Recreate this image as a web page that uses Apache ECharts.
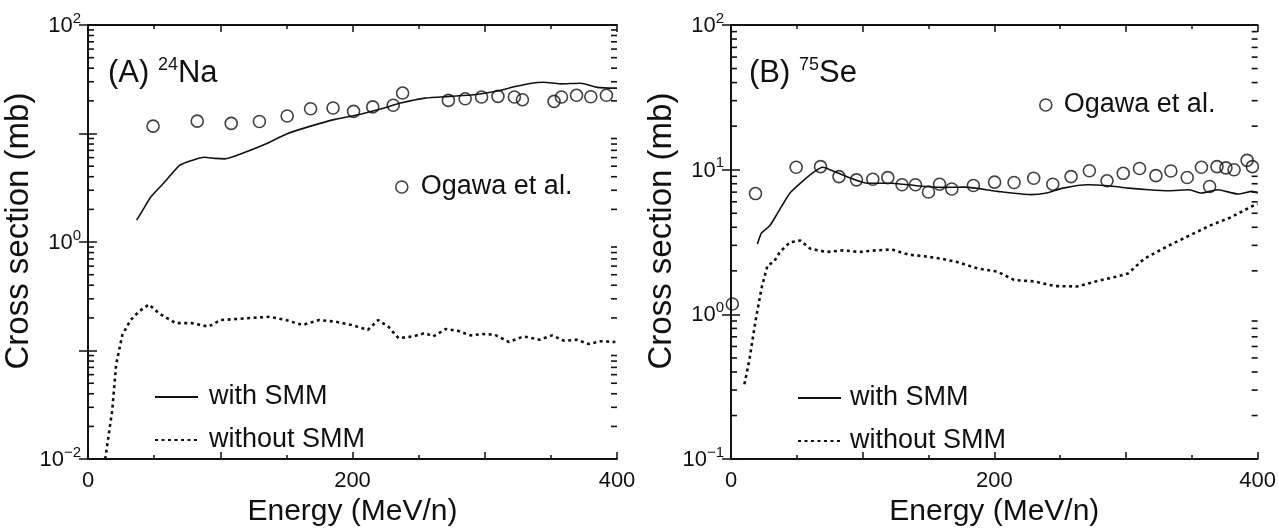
<!DOCTYPE html>
<html>
<head>
<meta charset="utf-8">
<script src="https://cdn.jsdelivr.net/npm/echarts@6/dist/echarts.min.js"></script>
<style>
html, body { margin: 0; padding: 0; background: #fff; }
#chart { width: 1279px; height: 532px; }
</style>
</head>
<body>
<div id="chart"></div>
<script>
// (A) 24Na
var naExpE = [49.2, 82.6, 108.3, 129.6, 150.6, 168.3, 185.3, 200.8, 215.3, 230.8, 237.9, 272.5, 285.2, 297.6, 310, 322.4, 328.5, 352.4, 358, 369.4, 380.2, 392];
var naExpV = [11.7, 13.0, 12.4, 12.9, 14.5, 16.9, 17.2, 16.0, 17.6, 18.2, 23.6, 20.2, 20.9, 21.7, 22.0, 21.7, 20.5, 19.8, 21.7, 22.5, 21.8, 22.5];
var naSmmE = [36.8, 41.5, 47.6, 56.9, 69.3, 78.6, 87.9, 96, 103.3, 118.8, 134.3, 149.7, 168.3, 186.8, 205.4, 224, 236.4, 255, 273.5, 292, 310.6, 323, 335.3, 344.6, 357, 372.4, 384.9, 398.8, 400];
var naSmmV = [1.59, 1.98, 2.62, 3.46, 5.08, 5.65, 6.05, 5.9, 5.84, 6.72, 8.0, 9.86, 11.7, 13.5, 15.0, 17.2, 19.1, 21.2, 22.0, 22.8, 24.8, 27.1, 29.1, 29.7, 28.7, 29.1, 26.6, 26.2, 26.2];
var naNoE = [13, 18.3, 21.3, 26, 32.2, 38.3, 46.1, 53.8, 66.2, 78.6, 91, 100.2, 118.8, 137.4, 149.7, 162.1, 174.5, 186.8, 199.3, 211.6, 219.3, 227.1, 234.8, 245.6, 254.9, 261, 270.4, 279.7, 289, 298.2, 307.5, 318.3, 329.2, 341.5, 350.8, 360.1, 369.4, 378.7, 388, 398.8];
var naNoV = [0.01, 0.028, 0.0746, 0.14, 0.191, 0.228, 0.266, 0.22, 0.179, 0.179, 0.166, 0.191, 0.198, 0.205, 0.191, 0.172, 0.191, 0.185, 0.172, 0.155, 0.191, 0.166, 0.130, 0.135, 0.145, 0.135, 0.158, 0.152, 0.138, 0.142, 0.14, 0.12, 0.135, 0.126, 0.138, 0.123, 0.126, 0.115, 0.122, 0.12];

// (B) 75Se
var seExpE = [1, 18.6, 49.5, 68, 82, 95.3, 107.7, 119.1, 129.9, 140.1, 150, 158.4, 167.7, 184.1, 200.2, 215, 229.9, 244.4, 258.3, 272.2, 285.6, 297.9, 310.3, 322.7, 334.1, 346.5, 357.3, 363.5, 369.1, 375.9, 382.1, 392, 396];
var seExpV = [1.18, 6.84, 10.4, 10.5, 8.96, 8.51, 8.59, 8.82, 7.87, 7.87, 7.01, 7.94, 7.35, 7.78, 8.2, 8.16, 8.73, 7.94, 8.96, 9.84, 8.38, 9.44, 10.2, 9.1, 9.8, 8.83, 10.4, 7.66, 10.5, 10.3, 10.0, 11.6, 10.5];
var seSmmE = [20.1, 23.2, 29.4, 35.6, 44.8, 54.1, 63.4, 69.6, 78.9, 91.2, 103.7, 122.2, 140.8, 159.4, 178, 202.6, 227.4, 239.7, 252.1, 270.7, 286.2, 301.6, 317.1, 332.5, 348, 357.3, 369.7, 385.2, 396, 400];
var seSmmV = [3.07, 3.65, 4.1, 5.05, 6.9, 8.28, 9.69, 10.4, 9.69, 8.73, 8.07, 8.07, 7.75, 7.55, 7.58, 7.08, 6.73, 6.9, 7.46, 7.87, 7.75, 7.46, 7.27, 7.16, 7.27, 6.9, 7.27, 6.79, 7.08, 6.9];
var seNoE = [10.2, 13.9, 18.6, 23.2, 27.8, 32.5, 37.1, 44.8, 52.6, 60.3, 72.7, 85.1, 97.4, 109.9, 122.2, 134.6, 147, 159.4, 171.7, 187.2, 202.6, 215, 230.5, 245.9, 263, 276.9, 292.3, 301.6, 314, 332.5, 348, 363.5, 379, 396, 400];
var seNoV = [0.329, 0.481, 0.9, 1.52, 2.19, 2.3, 2.7, 3.15, 3.24, 2.84, 2.7, 2.77, 2.7, 2.77, 2.81, 2.59, 2.52, 2.43, 2.3, 2.08, 1.97, 1.73, 1.69, 1.57, 1.56, 1.69, 1.82, 1.92, 2.43, 2.99, 3.5, 4.1, 4.66, 5.6, 5.8];

// axis ticks
var xLabels = [0, 200, 400];
var naDecades = [0.01, 0.1, 1, 10];
var seDecades = [0.1, 1, 10];
var minorSteps = [2, 3, 4, 5, 6, 7, 8, 9];

var FONT = '"Liberation Sans", Arial, sans-serif';
var INK = '#111';

function pairs(xs, ys) {
    return xs.map(function (x, i) { return [x, ys[i]]; });
}

// log minor ticks (2..9 per decade)
function minorValues(decades) {
    var out = [];
    decades.forEach(function (d) {
        minorSteps.forEach(function (m) { out.push([200, +(d * m).toPrecision(3)]); });
    });
    return out;
}

function powLabel(onlyEven) {
    return function (v) {
        var e = Math.round(Math.log(v) / Math.LN10);
        if (onlyEven && e % 2 !== 0) return '';
        return '{b|10}{e|' + (e < 0 ? '\u2212' + (-e) : e) + '}';
    };
}

var powRich = {
    b: { fontSize: 22, fontFamily: FONT, color: INK, verticalAlign: 'bottom', lineHeight: 24 },
    e: { fontSize: 15, fontFamily: FONT, color: INK, verticalAlign: 'bottom', lineHeight: 15, padding: [0, 0, 11, 0] }
};

function xAxisPair(grid) {
    var base = {
        type: 'value', gridIndex: grid, min: 0, max: 400, interval: 100,
        axisLine: { lineStyle: { color: INK, width: 1.8 } },
        axisTick: { inside: true, length: 7, lineStyle: { color: INK, width: 1.5 } },
        minorTick: { show: true, splitNumber: 2, length: 4, lineStyle: { color: INK, width: 1.5 } },
        splitLine: { show: false }
    };
    var bottom = Object.assign({}, base, {
        position: 'bottom',
        name: 'Energy (MeV/n)', nameLocation: 'middle', nameGap: 37,
        nameTextStyle: { fontSize: 30, fontFamily: FONT, color: INK },
        axisLabel: {
            margin: 11, fontSize: 22, fontFamily: FONT, color: INK,
            formatter: function (v) { return xLabels.indexOf(v) >= 0 ? String(v) : ''; }
        }
    });
    var top = Object.assign({}, base, { position: 'top', axisLabel: { show: false } });
    return [bottom, top];
}

function yAxisPair(grid, min, max, splits, onlyEven) {
    var base = {
        type: 'log', logBase: 10, gridIndex: grid, min: min, max: max, splitNumber: splits,
        axisLine: { lineStyle: { color: INK, width: 1.8 } },
        axisTick: { inside: true, length: 9, lineStyle: { color: INK, width: 1.5 } },
        splitLine: { show: false }
    };
    var left = Object.assign({}, base, {
        position: 'left',
        name: 'Cross section (mb)', nameLocation: 'middle', nameGap: 47,
        nameTextStyle: { fontSize: 33, fontFamily: FONT, color: INK, padding: [0, 0, 0, 22] },
        axisLabel: { margin: 7, formatter: powLabel(onlyEven), rich: powRich }
    });
    var right = Object.assign({}, base, { position: 'right', axisLabel: { show: false } });
    return [left, right];
}

// drawn on its own layer so nothing else on the chart can hide it
function minorTickSeries(xi, yi, decades) {
    return {
        type: 'custom', xAxisIndex: xi, yAxisIndex: yi, silent: true, clip: false,
        data: minorValues(decades),
        zlevel: 1, z: 20,
        renderItem: function (params, api) {
            var y = api.coord([api.value(0), api.value(1)])[1];
            var cs = params.coordSys;
            var x0 = cs.x, x1 = cs.x + cs.width;
            var st = { stroke: INK, lineWidth: 1.6 };
            return {
                type: 'group', children: [
                    { type: 'line', shape: { x1: x0, y1: y, x2: x0 + 6, y2: y }, style: st },
                    { type: 'line', shape: { x1: x1 - 6, y1: y, x2: x1, y2: y }, style: st }
                ]
            };
        }
    };
}

function smmLine(name, xi, yi, data, dotted) {
    return {
        name: name, type: 'line', xAxisIndex: xi, yAxisIndex: yi,
        data: data, symbol: 'none', smooth: dotted ? false : 0.2,
        lineStyle: dotted ? { color: INK, width: 2.6, type: [3, 3.5] } : { color: INK, width: 1.6 },
        itemStyle: { color: INK },
        z: 3
    };
}

function expScatter(xi, yi, data) {
    return {
        name: 'Ogawa et al.', type: 'scatter', xAxisIndex: xi, yAxisIndex: yi,
        data: data, symbol: 'circle', symbolSize: 12,
        itemStyle: { color: 'transparent', borderColor: INK, borderWidth: 1.6 },
        z: 4
    };
}

var legendText = { fontSize: 27, fontFamily: FONT, color: INK, lineHeight: 30 };
var titleRich = {
    p: { fontSize: 31, fontFamily: FONT, fontWeight: 'normal', color: INK, verticalAlign: 'bottom', lineHeight: 34 },
    s: { fontSize: 18, fontFamily: FONT, fontWeight: 'normal', color: INK, verticalAlign: 'bottom', lineHeight: 18, padding: [0, 0, 15, 0] }
};
var hiddenMarker = { color: 'transparent', borderWidth: 0, opacity: 0 };

var option = {
    backgroundColor: '#fff',
    animation: false,
    grid: [
        { left: 88, top: 25, width: 529, height: 442 },
        { left: 731, top: 25, width: 528, height: 442 }
    ],
    title: [
        { text: '{p|(A) }{s|24}{p|Na}', left: 103, top: 50, textStyle: { fontWeight: 'normal', rich: titleRich } },
        { text: '{p|(B) }{s|75}{p|Se}', left: 744, top: 50, textStyle: { fontWeight: 'normal', rich: titleRich } }
    ],
    legend: [
        {
            data: ['with SMM', 'without SMM'], orient: 'vertical', left: 149, top: 377,
            itemWidth: 43, itemHeight: 14, itemGap: 13, itemStyle: hiddenMarker,
            textStyle: Object.assign({ padding: [0, 0, 0, 6] }, legendText)
        },
        {
            data: ['with SMM', 'without SMM'], orient: 'vertical', left: 792, top: 378,
            itemWidth: 43, itemHeight: 14, itemGap: 13, itemStyle: hiddenMarker,
            textStyle: Object.assign({ padding: [0, 0, 0, 4] }, legendText)
        },
        {
            data: ['Ogawa et al.'], left: 390, top: 167, itemWidth: 12, itemHeight: 12,
            itemStyle: { color: 'transparent', borderColor: INK, borderWidth: 1.6 },
            textStyle: Object.assign({ padding: [0, 0, 0, 8] }, legendText)
        },
        {
            data: ['Ogawa et al.'], left: 1034, top: 85, itemWidth: 12, itemHeight: 12,
            itemStyle: { color: 'transparent', borderColor: INK, borderWidth: 1.6 },
            textStyle: Object.assign({ padding: [0, 0, 0, 7] }, legendText)
        }
    ],
    xAxis: xAxisPair(0).concat(xAxisPair(1)),
    yAxis: yAxisPair(0, 0.01, 100, 4, true).concat(yAxisPair(1, 0.1, 100, 3, false)),
    series: [
        smmLine('with SMM', 0, 0, pairs(naSmmE, naSmmV), false),
        smmLine('without SMM', 0, 0, pairs(naNoE, naNoV), true),
        expScatter(0, 0, pairs(naExpE, naExpV)),
        minorTickSeries(0, 0, naDecades),
        smmLine('with SMM', 2, 2, pairs(seSmmE, seSmmV), false),
        smmLine('without SMM', 2, 2, pairs(seNoE, seNoV), true),
        expScatter(2, 2, pairs(seExpE, seExpV)),
        minorTickSeries(2, 2, seDecades)
    ]
};

var myChart = echarts.init(document.getElementById('chart'));
myChart.setOption(option);
</script>
</body>
</html>
